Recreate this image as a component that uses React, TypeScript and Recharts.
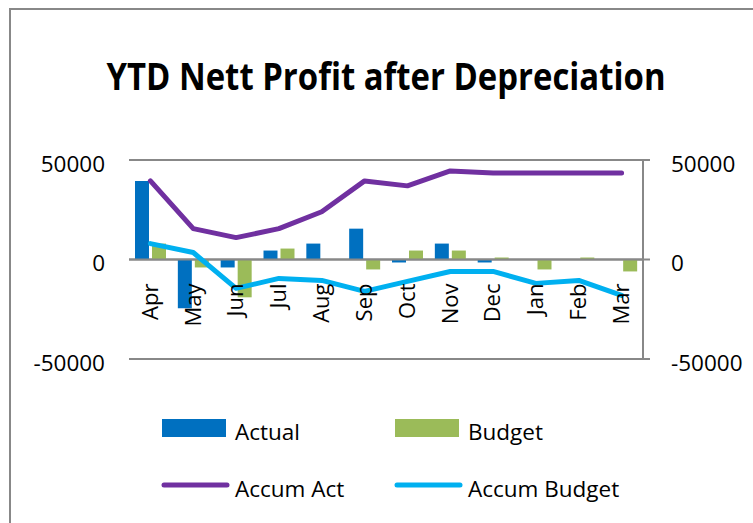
import { Bar, ComposedChart, Line, XAxis, YAxis, CartesianGrid, ReferenceLine } from "recharts";

const months = ["Apr", "May", "Jun", "Jul", "Aug", "Sep", "Oct", "Nov", "Dec", "Jan", "Feb", "Mar"];
const actual = [39500, -24500, -4000, 4500, 8000, 15500, -1500, 8000, -1500, 0, 0, 0];
const budget = [8000, -4000, -19000, 5500, 0, -5000, 4500, 4500, 1000, -5000, 1000, -6000];
const accumAct = [39500, 15500, 11000, 15500, 24000, 39500, 37000, 44500, 43500, 43500, 43500, 43500];
const accumBudget = [8000, 3500, -14500, -9500, -10500, -16000, -11000, -6000, -6000, -12000, -10500, -18000];
const yTicks = [-50000, 0, 50000];

const data = months.map((m, i) => ({
  month: m,
  actual: actual[i],
  budget: budget[i],
  accumAct: accumAct[i],
  accumBudget: accumBudget[i],
}));

const W = 753;
const H = 523;
const PLOT_TOP = 160;
const PLOT_BOTTOM = 359;
const FONT = "'Open Sans', 'Liberation Sans', sans-serif";

const legendItems = [
  { name: "Actual", color: "#0070C0", kind: "rect", x: 162, y: 428 },
  { name: "Budget", color: "#9BBB59", kind: "rect", x: 395, y: 428 },
  { name: "Accum Act", color: "#7030A0", kind: "line", x: 162, y: 485 },
  { name: "Accum Budget", color: "#00B0F0", kind: "line", x: 395, y: 485 },
];

// month labels sit just under the zero line (domain is symmetric)
function MonthTick(props: any) {
  const { x, payload } = props;
  const zeroY = (PLOT_TOP + PLOT_BOTTOM) / 2;
  const ty = zeroY + 24;
  return (
    <text
      x={x}
      y={ty}
      dy="0.33em"
      transform={`rotate(-90, ${x}, ${ty})`}
      textAnchor="end"
      fontSize={22}
      fontFamily={FONT}
      fill="#000"
    >
      {payload.value}
    </text>
  );
}

export default function App() {
  return (
    <div style={{ position: "absolute", left: 0, top: 0, width: W, height: H, overflow: "hidden", background: "#fff" }}>
      <div
        style={{
          position: "absolute",
          left: 9,
          top: 8,
          width: W - 9,
          height: H - 8,
          boxSizing: "border-box",
          borderLeft: "2px solid #888",
          borderTop: "2px solid #888",
        }}
      />
      <div style={{ position: "absolute", left: 0, top: 0 }}>
        <ComposedChart
          width={W}
          height={H}
          data={data}
          barSize={14}
          barGap={3}
          margin={{ top: PLOT_TOP, right: 0, bottom: H - PLOT_BOTTOM - 30, left: 0 }}
        >
          <CartesianGrid yAxisId="left" vertical={false} stroke="#888" strokeWidth={2} />
          <XAxis
            dataKey="month"
            height={30}
            axisLine={false}
            tickLine={false}
            tickSize={0}
            tickMargin={0}
            interval={0}
            tick={<MonthTick />}
          />
          <YAxis
            yAxisId="left"
            width={129}
            domain={[-50000, 50000]}
            ticks={yTicks}
            axisLine={false}
            tickLine={false}
            tickSize={0}
            tickMargin={24}
            tick={{ fontSize: 22.5, fill: "#000", fontFamily: FONT, dy: 4 }}
          />
          <YAxis
            yAxisId="right"
            orientation="right"
            width={110}
            domain={[-50000, 50000]}
            ticks={yTicks}
            axisLine={{ stroke: "#888", strokeWidth: 2 }}
            tickLine={{ stroke: "#888", strokeWidth: 2 }}
            tickSize={7}
            tickMargin={21}
            tick={{ fontSize: 22.5, fill: "#000", fontFamily: FONT, dy: 4 }}
          />
          <Bar yAxisId="left" dataKey="actual" fill="#0070C0" isAnimationActive={false} />
          <Bar yAxisId="left" dataKey="budget" fill="#9BBB59" isAnimationActive={false} />
          <ReferenceLine yAxisId="left" y={0} stroke="#888" strokeWidth={2} />
          <Line
            yAxisId="right"
            type="linear"
            dataKey="accumAct"
            stroke="#7030A0"
            strokeWidth={5}
            strokeLinecap="round"
            strokeLinejoin="round"
            dot={false}
            isAnimationActive={false}
          />
          <Line
            yAxisId="right"
            type="linear"
            dataKey="accumBudget"
            stroke="#00B0F0"
            strokeWidth={5}
            strokeLinecap="round"
            strokeLinejoin="round"
            dot={false}
            isAnimationActive={false}
          />
        </ComposedChart>
      </div>
      <svg width={W} height={H} style={{ position: "absolute", left: 0, top: 0, pointerEvents: "none" }}>
        <text
          x={386}
          y={90}
          textAnchor="middle"
          fontSize={38}
          fontWeight={700}
          fontFamily={FONT}
          textLength={559}
          lengthAdjust="spacingAndGlyphs"
          fill="#000"
        >
          YTD Nett Profit after Depreciation
        </text>
        {legendItems.map((it) => (
          <g key={it.name}>
            {it.kind === "rect" ? (
              <rect x={it.x} y={it.y - 9} width={64} height={18} fill={it.color} />
            ) : (
              <line
                x1={it.x + 2}
                x2={it.x + 65}
                y1={it.y}
                y2={it.y}
                stroke={it.color}
                strokeWidth={5}
                strokeLinecap="round"
              />
            )}
            <text x={it.x + 73} y={it.y + 12} fontSize={22.5} fontFamily={FONT} fill="#000">
              {it.name}
            </text>
          </g>
        ))}
      </svg>
    </div>
  );
}
